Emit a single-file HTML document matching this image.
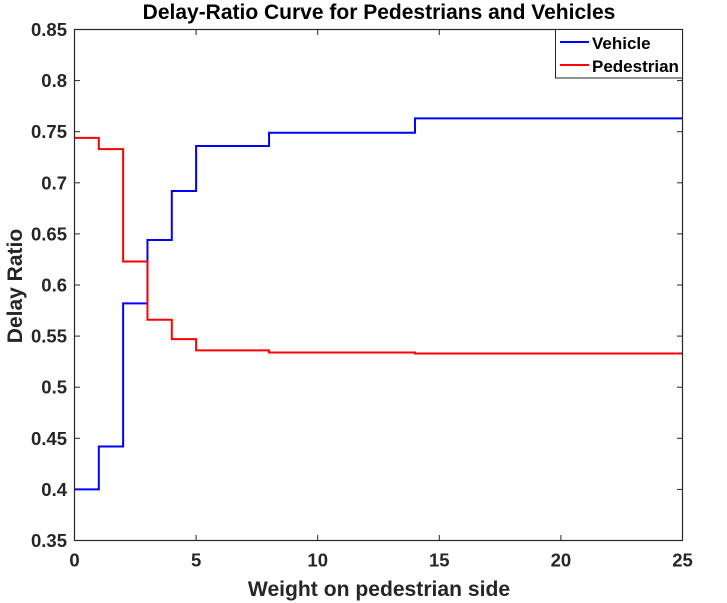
<!DOCTYPE html>
<html>
<head>
<meta charset="utf-8">
<style>
html,body{margin:0;padding:0;background:#fff}
svg{display:block}
text{font-family:"Liberation Sans",Arial,sans-serif;font-weight:bold}
</style>
</head>
<body>
<svg id="chart" width="727" height="603" viewBox="0 0 727 603" xmlns="http://www.w3.org/2000/svg">
<rect width="727" height="603" fill="#fff"/>
<text x="379" y="19" text-anchor="middle" font-size="21" fill="#000">Delay-Ratio Curve for Pedestrians and Vehicles</text>
<text x="379" y="596" text-anchor="middle" font-size="21.1" fill="#262626">Weight on pedestrian side</text>
<text transform="translate(22 286) rotate(-90)" text-anchor="middle" font-size="21" fill="#262626">Delay Ratio</text>
<g id="ticks"></g>
<g id="series"></g>
<rect x="74.5" y="29.5" width="608" height="511" fill="none" stroke="#262626" stroke-width="1.2"/>
<g>
<rect x="555.5" y="29.5" width="127" height="48.5" fill="#fff" stroke="#262626" stroke-width="1"/>
<line x1="560" x2="589" y1="42" y2="42" stroke="#0000ff" stroke-width="2"/>
<text x="592" y="49" font-size="17" fill="#000">Vehicle</text>
<line x1="560" x2="589" y1="65" y2="65" stroke="#ff0000" stroke-width="2"/>
<text x="592" y="72" font-size="17" fill="#000">Pedestrian</text>
</g>
</svg>
<script>
var stepEdges = [0, 1, 2, 3, 4, 5, 8, 14, 25];
var vehicleValues = [0.4, 0.442, 0.582, 0.644, 0.692, 0.736, 0.749, 0.763];
var pedestrianValues = [0.744, 0.733, 0.623, 0.566, 0.547, 0.536, 0.534, 0.533];
var xTickValues = [0, 5, 10, 15, 20, 25];
var xTickLabels = ['0', '5', '10', '15', '20', '25'];
var yTickValues = [0.35, 0.4, 0.45, 0.5, 0.55, 0.6, 0.65, 0.7, 0.75, 0.8, 0.85];
var yTickLabels = ['0.35', '0.4', '0.45', '0.5', '0.55', '0.6', '0.65', '0.7', '0.75', '0.8', '0.85'];

var NS = 'http://www.w3.org/2000/svg';
function xScale(v) { return 74.5 + (v - 0) / 25 * 608; }
function yScale(v) { return 540.5 - (v - 0.35) / 0.5 * 511; }

var ticks = document.getElementById('ticks');
function addLine(x1, y1, x2, y2) {
  var l = document.createElementNS(NS, 'line');
  l.setAttribute('x1', x1);
  l.setAttribute('y1', y1);
  l.setAttribute('x2', x2);
  l.setAttribute('y2', y2);
  l.setAttribute('stroke', '#262626');
  l.setAttribute('stroke-width', '1');
  
  
  ticks.appendChild(l);
}
function addLabel(x, y, anchor, str) {
  var t = document.createElementNS(NS, 'text');
  t.setAttribute('x', x);
  t.setAttribute('y', y);
  t.setAttribute('text-anchor', anchor);
  t.setAttribute('font-size', '18.5');
  t.setAttribute('fill', '#262626');
  
  
  t.textContent = str;
  ticks.appendChild(t);
}
xTickValues.forEach(function (v, i) {
  var x = xScale(v);
  addLine(x, 540.5, x, 535);
  addLine(x, 29.5, x, 35);
  addLabel(x, 566.5, 'middle', xTickLabels[i]);
});
yTickValues.forEach(function (v, i) {
  var y = yScale(v);
  addLine(74.5, y, 80, y);
  addLine(682.5, y, 677, y);
  addLabel(67, y + 6.5, 'end', yTickLabels[i]);
});

function stairs(values) {
  var d = '';
  values.forEach(function (v, i) {
    d += (i === 0 ? 'M' : 'L') + xScale(stepEdges[i]).toFixed(2) + ' ' + yScale(v).toFixed(2);
    d += 'L' + xScale(stepEdges[i + 1]).toFixed(2) + ' ' + yScale(v).toFixed(2);
  });
  return d;
}
var series = document.getElementById('series');
var vehiclePath = document.createElementNS(NS, 'path');
vehiclePath.setAttribute('d', stairs(vehicleValues));
vehiclePath.setAttribute('fill', 'none');
vehiclePath.setAttribute('stroke', '#0000ff');
vehiclePath.setAttribute('stroke-width', '2');


series.appendChild(vehiclePath);
var pedestrianPath = document.createElementNS(NS, 'path');
pedestrianPath.setAttribute('d', stairs(pedestrianValues));
pedestrianPath.setAttribute('fill', 'none');
pedestrianPath.setAttribute('stroke', '#ff0000');
pedestrianPath.setAttribute('stroke-width', '2');


series.appendChild(pedestrianPath);
</script>
</body>
</html>
